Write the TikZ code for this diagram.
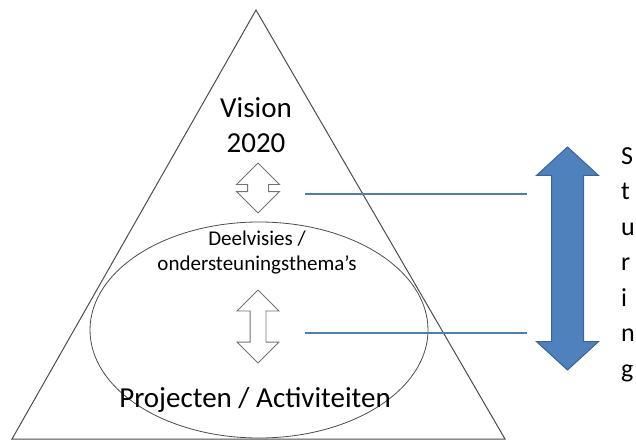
\documentclass[tikz,border=0pt]{standalone}
\usepackage{fontspec}
\setmainfont{Carlito}
\usetikzlibrary{shapes.geometric, shapes.arrows}

\definecolor{sturblue}{HTML}{4F81BD}
\definecolor{sturedge}{HTML}{3A6496}
\definecolor{linkblue}{HTML}{4A7EBB}

\tikzset{
  hollowarrow/.style={double arrow, draw=black!55, fill=white, line width=0.9pt,
    rotate=90, inner xsep=0pt, double arrow tip angle=90},
  linkline/.style={draw=linkblue, line width=1.2pt},
}

\begin{document}
\begin{tikzpicture}[x=1pt,y=-1pt]
   \useasboundingbox (0,0) rectangle (636,441);

   % pyramid and the inner ellipse
   \coordinate (apex) at (256,10);
   \coordinate (bl) at (12,439);
   \coordinate (br) at (505,439);
   \draw[black!70, line width=1pt] (apex) -- (bl) -- (br) -- cycle;
   \node[ellipse, draw=black!70, line width=0.8pt, minimum width=338pt, minimum height=216pt] (deel) at (259,330) {};

   % labels (base = baseline of the last line)
   \node[font=\fontsize{29}{35}\selectfont, align=center, anchor=base] (vision) at (256,152) {Vision\\2020};
   \node[font=\fontsize{21}{24.5}\selectfont, align=center, anchor=base] (thema) at (257,270) {Deelvisies /\\ondersteuningsthema’s};
   \node[font=\fontsize{29}{30}\selectfont, anchor=base] (proj) at (255,407) {Projecten / Activiteiten};

   % small double arrows
   \node[hollowarrow, inner ysep=10pt, double arrow head extend=11pt, minimum height=50pt] (arr1) at (258,188) {};
   \node[hollowarrow, inner ysep=7.5pt, double arrow head extend=13pt, minimum height=73pt] (arr2) at (258,326.5) {};

   % steering arrow
   \node[double arrow, rotate=90, fill=sturblue, draw=sturedge, line width=1pt, inner xsep=0pt, inner ysep=15.5pt,
         minimum height=223pt, double arrow head extend=15pt,
         double arrow tip angle=95] (stur) at (567.5,258.5) {};
   \node[font=\fontsize{26}{35.5}\selectfont, align=left, anchor=north west, inner sep=0pt] (sturing) at (621,147) {S\\t\\u\\r\\i\\n\\g};

   % connectors
   \coordinate (l1w) at (305,194);
   \coordinate (l1e) at (527,194);
   \coordinate (l2w) at (305,333);
   \coordinate (l2e) at (527,333);
   \draw[linkline] (l1w) -- (l1e);
   \draw[linkline] (l2w) -- (l2e);
\end{tikzpicture}
\end{document}
